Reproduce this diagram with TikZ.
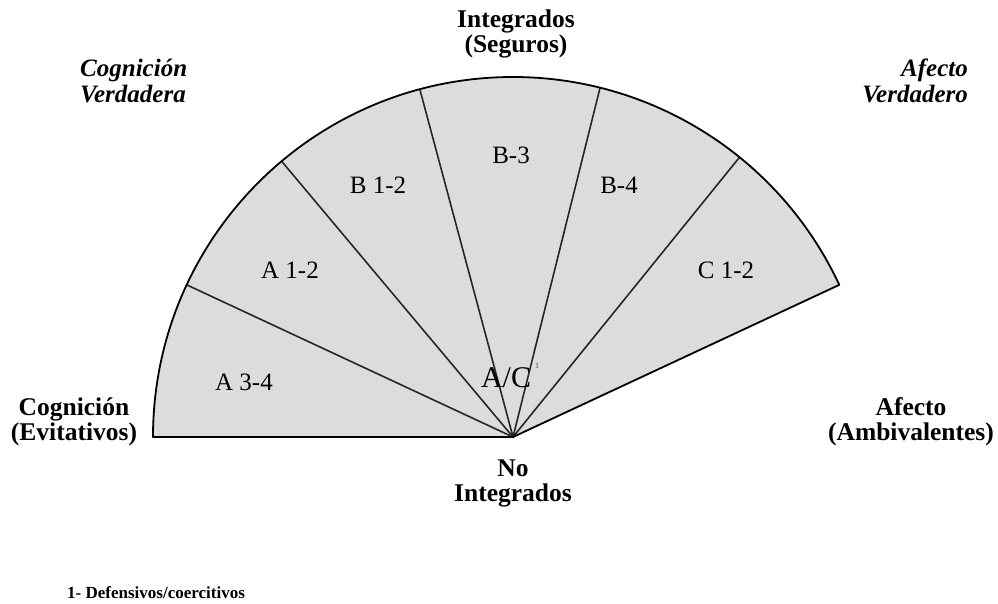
\documentclass[tikz,border=0pt]{standalone}
\usepackage{fontspec}
\setmainfont{Liberation Serif}
\usetikzlibrary{calc}
\begin{document}
\begin{tikzpicture}[x=1pt,y=1pt,
  wedgefill/.style={fill={rgb,255:red,220;green,220;blue,220}},
  rim/.style={draw=black,line width=1.8pt,line join=round},
  divider/.style={draw=black!85,line width=1.6pt},
  wedgetext/.style={font=\fontsize{25}{25}\selectfont,inner sep=0pt},
  poletext/.style={font=\fontsize{25.5}{25}\selectfont\bfseries,inner sep=0pt,align=center},
  diagtext/.style={font=\fontsize{25}{26}\selectfont\bfseries\itshape,inner sep=0pt}]
\useasboundingbox (0,0) rectangle (998,603);

% centre of the fan and its radius
\coordinate (O) at (513,166);
\def\R{360}

% points on the rim
\coordinate (p180) at ($(O)+(180:\R)$);
\coordinate (p155) at ($(O)+(155:\R)$);
\coordinate (p130) at ($(O)+(130:\R)$);
\coordinate (p105) at ($(O)+(105:\R)$);
\coordinate (p76)  at ($(O)+(76:\R)$);
\coordinate (p51)  at ($(O)+(51:\R)$);
\coordinate (p25)  at ($(O)+(25:\R)$);

% the fan
\path[wedgefill] (O) -- (p180) arc[start angle=180,end angle=25,radius=\R] -- cycle;

% sector dividers
\foreach \p in {p155,p130,p105,p76,p51}
  \draw[divider] (O) -- (\p);

\draw[rim] (O) -- (p180) arc[start angle=180,end angle=25,radius=\R] -- cycle;

% sector labels
\node[wedgetext] (a34) at (244,221) {A 3-4};
\node[wedgetext] (a12) at (290,333) {A 1-2};
\node[wedgetext] (b12) at (378,418) {B 1-2};
\node[wedgetext] (b3)  at (511,448) {B-3};
\node[wedgetext] (b4)  at (619,418) {B-4};
\node[wedgetext] (c12) at (726,333) {C 1-2};
\node[inner sep=0pt,font=\fontsize{30}{30}\selectfont] (ac) at (506,225) {A/C};
\node[inner sep=0pt,font=\fontsize{8}{8}\selectfont,text=black!70] (acnote) at (537,237) {1};

% poles around the fan
\node[poletext] (integ) at (516,569) {Integrados\\(Seguros)};
\node[poletext] (cogev) at (74,181) {Cognición\\(Evitativos)};
\node[poletext] (afamb) at (911,181) {Afecto\\(Ambivalentes)};
\node[poletext] (noint) at (513,120) {No\\Integrados};
\node[diagtext,align=left,anchor=west] (cogver) at (80,522) {Cognición\\Verdadera};
\node[diagtext,align=right,anchor=east] (afver) at (968,522) {Afecto\\Verdadero};

% footnote
\node[inner sep=0pt,anchor=west,font=\fontsize{17}{17}\selectfont\bfseries] (fn) at (67,10) {1- Defensivos/coercitivos};
\end{tikzpicture}
\end{document}
